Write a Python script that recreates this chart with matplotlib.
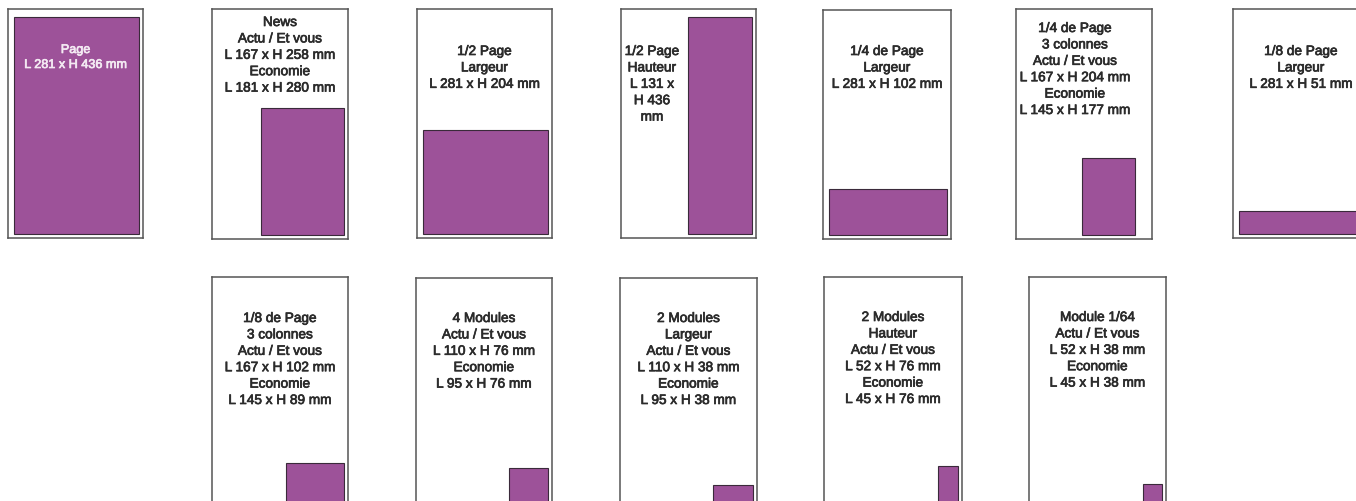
import matplotlib

matplotlib.use("Agg")
import matplotlib.pyplot as plt
import matplotlib.patheffects as pe

W, H = 1356, 502
PURPLE = "#9d5299"
FRAME = "#555555"
INK = "#2b2b2b"

# ad formats: caption lines, share of the printable page (width, height),
# and where the ad's right edge sits (1.0 = flush right)
captions = [
    ["Page", "L 281 x H 436 mm"],
    ["News", "Actu / Et vous", "L 167 x H 258 mm", "Economie", "L 181 x H 280 mm"],
    ["1/2 Page", "Largeur", "L 281 x H 204 mm"],
    ["1/2 Page", "Hauteur", "L 131 x", "H 436", "mm"],
    ["1/4 de Page", "Largeur", "L 281 x H 102 mm"],
    ["1/4 de Page", "3 colonnes", "Actu / Et vous", "L 167 x H 204 mm",
     "Economie", "L 145 x H 177 mm"],
    ["1/8 de Page", "Largeur", "L 281 x H 51 mm"],
    ["1/8 de Page", "3 colonnes", "Actu / Et vous", "L 167 x H 102 mm",
     "Economie", "L 145 x H 89 mm"],
    ["4 Modules", "Actu / Et vous", "L 110 x H 76 mm", "Economie", "L 95 x H 76 mm"],
    ["2 Modules", "Largeur", "Actu / Et vous", "L 110 x H 38 mm",
     "Economie", "L 95 x H 38 mm"],
    ["2 Modules", "Hauteur", "Actu / Et vous", "L 52 x H 76 mm",
     "Economie", "L 45 x H 76 mm"],
    ["Module 1/64", "Actu / Et vous", "L 52 x H 38 mm", "Economie", "L 45 x H 38 mm"],
]
ad_width = [1.0, 0.66, 1.0, 0.51, 1.0, 0.42, 1.0, 0.46, 0.31, 0.31, 0.15, 0.15]
ad_height = [1.0, 0.58, 0.48, 1.0, 0.21, 0.35, 0.106, 0.18, 0.16, 0.08, 0.17, 0.085]
ad_right = [1.0, 1.0, 1.0, 1.0, 1.0, 0.90, 1.0, 1.0, 1.0, 1.0, 1.0, 1.0]

# page frames in pixels: left, top, width, height, caption centre x, first line y
layout = [
    (8, 10, 135, 229, 75.5, 51),
    (212, 10, 136, 230, 280, 23),
    (417, 10, 135, 229, 484.5, 52),
    (621, 10, 135, 229, 652, 52),
    (823, 11, 128, 229, 887, 52),
    (1016, 10, 136, 230, 1075, 29),
    (1233, 10, 135, 229, 1301, 52),
    (212, 278, 136, 230, 280, 319),
    (416, 279, 136, 229, 484, 319),
    (620, 279, 137, 229, 688.5, 319),
    (824, 278, 138, 230, 893, 318),
    (1029, 278, 137, 230, 1097.5, 318),
]

fig = plt.figure(figsize=(W / 100, H / 100), dpi=100)
fig.patch.set_facecolor("white")

for i, (left, top, pw, ph, _, _) in enumerate(layout):
    ax = fig.add_axes([left / W, 1 - (top + ph) / H, pw / W, ph / H])
    inner_w, inner_h = pw - 10.5, ph - 12.5
    ax.set_xlim(-6 / inner_w, 1 + 4.5 / inner_w)
    ax.set_ylim(-4.5 / inner_h, 1 + 8 / inner_h)
    ax.bar(ad_right[i], ad_height[i], width=-ad_width[i], align="edge",
           color=PURPLE, edgecolor="#3a2a3a", linewidth=0.8)
    ax.set_xticks([])
    ax.set_yticks([])
    for s in ax.spines.values():
        s.set_color(FRAME)
        s.set_linewidth(1.1)

# captions go on a pixel-space overlay
over = fig.add_axes([0, 0, 1, 1], zorder=10)
over.set_xlim(0, W)
over.set_ylim(H, 0)
over.axis("off")
over.patch.set_alpha(0)

for i, lines in enumerate(captions):
    cx, y0 = layout[i][4], layout[i][5]
    if i == 0:
        color, size, step = "#f4eaf3", 9.1, 15
    else:
        color, size, step = INK, 9.8, 16.4
    # regular Helvetica-like face, thickened a little towards medium
    for k, line in enumerate(lines):
        over.text(cx, y0 + k * step, line, ha="center", va="center",
                  fontsize=size, color=color, family="Liberation Sans",
                  path_effects=[pe.withStroke(linewidth=0.5, foreground=color)])

fig.savefig("out.png", dpi=100)
